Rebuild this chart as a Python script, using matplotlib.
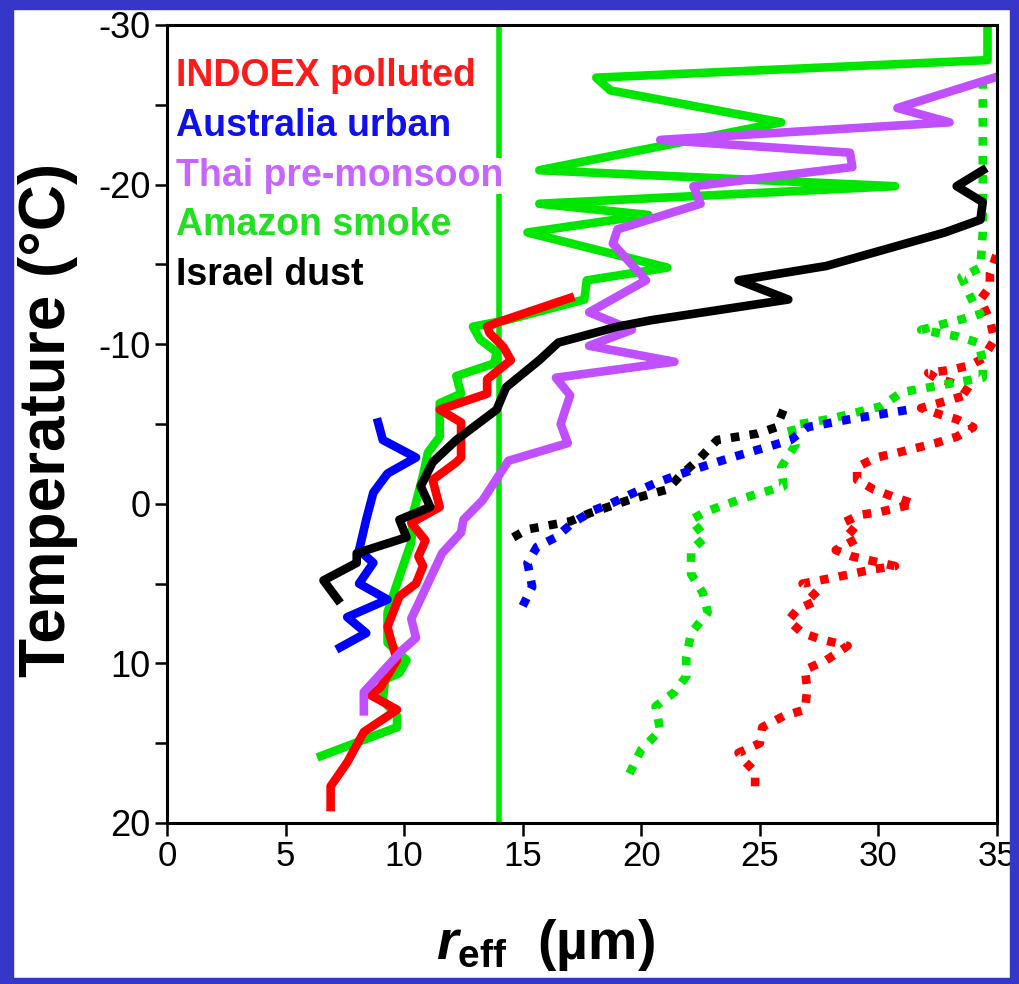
import matplotlib
matplotlib.use("Agg")
import matplotlib.pyplot as plt
from matplotlib.patches import Rectangle

plt.rcParams['font.family'] = ['Liberation Sans', 'DejaVu Sans']
plt.rcParams['axes.unicode_minus'] = False
plt.rcParams['mathtext.fontset'] = 'custom'
plt.rcParams['mathtext.rm'] = 'Liberation Sans:bold'
plt.rcParams['mathtext.it'] = 'Liberation Sans:italic:bold'
plt.rcParams['mathtext.bf'] = 'Liberation Sans:bold'

# solid curves (r_eff in um, temperature in C), bottom to top
indoex_x = [6.9, 6.9, 7.6, 8.3, 9.7, 8.6, 9.0, 9.7, 9.4, 9.3, 9.8, 10.5, 10.8, 10.6, 10.9, 10.3,
            11.5, 11.2, 12.2, 12.4, 12.4, 11.5, 13.5, 13.5, 14.5, 14.2, 13.6, 13.5, 14.0, 17.0]
indoex_y = [19.0, 17.7, 16.2, 14.3, 12.9, 12.0, 11.5, 9.8, 8.3, 7.7, 5.8, 5.0, 3.9, 3.3, 2.3, 1.2,
            0.2, -1.5, -2.6, -2.9, -5.1, -5.9, -6.9, -7.8, -9.0, -9.8, -10.7, -11.1, -11.4, -12.9]

australia_x = [7.3, 8.4, 7.6, 9.3, 8.1, 8.7, 8.1, 8.4, 8.7, 9.3, 10.5, 9.1, 8.9]
australia_y = [9.0, 8.1, 7.1, 6.0, 5.0, 3.7, 2.9, 1.0, -0.7, -1.9, -2.9, -4.0, -5.1]

thai_x = [8.3, 8.3, 9.9, 10.5, 10.3, 11.6, 12.4, 12.5, 13.3, 14.4, 16.9, 16.6, 17.0, 16.4, 21.4,
          17.8, 19.6, 17.8, 20.2, 18.8, 19.0, 22.5, 22.2, 28.9, 28.8, 20.8, 33.0, 30.8, 35.1]
thai_y = [13.0, 11.8, 9.2, 8.4, 7.2, 3.1, 1.8, 1.0, -0.2, -2.7, -3.8, -5.0, -6.8, -7.9, -8.9,
          -9.9, -10.9, -12.0, -14.0, -16.3, -17.2, -18.8, -19.9, -21.1, -22.0, -22.8, -23.9, -24.8, -26.8]

amazon_x = [6.5, 9.7, 9.7, 9.1, 9.2, 9.8, 10.1, 9.3, 9.3, 9.7, 10.3, 10.4, 10.8, 11.0, 11.5, 11.5,
            12.4, 12.2, 13.8, 13.9, 13.2, 12.9, 14.3, 17.6, 17.7, 21.1, 15.2, 20.3, 15.7, 30.7,
            15.7, 25.9, 18.7, 18.1, 34.6, 34.6]
amazon_y = [15.8, 14.0, 13.3, 12.3, 11.0, 10.6, 9.8, 8.7, 6.8, 5.0, 2.4, 0.5, -1.8, -3.2, -4.2, -6.3,
            -6.9, -8.0, -8.8, -9.5, -10.3, -11.1, -11.5, -12.8, -14.0, -14.8, -17.0, -18.1, -18.8, -19.9,
            -20.9, -23.9, -25.9, -26.7, -27.8, -30.0]

israel_x = [7.2, 6.6, 8.0, 8.0, 10.1, 9.8, 11.1, 10.7, 11.2, 12.2, 13.9, 14.3, 15.7, 16.5, 19.0,
            20.4, 26.2, 24.1, 27.8, 32.8, 34.3, 34.4, 33.3, 34.4]
israel_y = [6.0, 4.8, 3.7, 3.1, 2.1, 1.0, 0.2, -1.1, -2.6, -4.0, -5.9, -7.3, -9.0, -10.1, -11.1,
            -11.5, -12.8, -14.0, -14.9, -17.0, -17.8, -18.9, -19.9, -20.9]

# dotted curves
australia_d_x = [15.0, 15.4, 15.2, 15.6, 16.4, 17.1, 18.0, 18.7, 19.7, 20.6, 22.1, 23.8, 25.4, 26.3,
                 27.0, 28.8, 31.3]
australia_d_y = [6.4, 5.2, 3.7, 2.7, 2.1, 1.2, 0.4, 0.0, -0.7, -1.3, -2.1, -2.9, -3.6, -4.0,
                 -4.8, -5.3, -5.9]

israel_d_x = [14.6, 15.2, 17.0, 17.8, 19.5, 21.1, 21.6, 22.5, 23.2, 24.9, 25.7, 26.0]
israel_d_y = [2.1, 1.6, 1.1, 0.6, -0.25, -0.9, -1.7, -2.9, -4.0, -4.4, -4.8, -5.9]

amazon_d_x = [19.5, 20.0, 20.8, 20.6, 21.4, 21.9, 21.9, 22.1, 22.8, 22.6, 22.1, 22.1, 22.7, 22.1,
              22.7, 24.4, 26.0, 25.9, 26.5, 26.3, 27.9, 30.1, 31.0, 34.4, 34.4, 34.2, 33.3, 31.8,
              33.6, 34.3, 34.0, 33.5, 34.3, 34.4, 34.4]
amazon_d_y = [16.9, 15.4, 14.2, 12.7, 11.8, 10.8, 9.6, 8.1, 6.8, 5.6, 4.4, 2.9, 2.1, 1.0,
              0.5, -0.4, -1.1, -2.3, -3.7, -4.9, -5.3, -6.1, -7.0, -7.9, -9.0, -10.1, -10.5, -10.9,
              -11.6, -11.9, -12.6, -14.2, -14.8, -17.0, -26.9]

indoex_d_x = [24.8, 24.8, 24.4, 24.1, 25.0, 25.1, 26.0, 26.9, 27.0, 26.9, 27.8, 28.7, 27.6, 26.8,
              26.2, 26.6, 27.5, 26.8, 28.2, 29.8, 30.7, 28.9, 28.2, 29.2, 28.5, 29.2, 30.1, 31.5,
              30.7, 29.8, 29.1, 29.1, 29.9, 30.8, 32.4, 33.3, 34.0, 33.3, 32.6, 31.8, 33.0, 33.9,
              33.3, 32.4, 32.1, 33.1, 33.9, 34.4, 34.9, 34.7, 34.3, 34.7, 34.7, 35.0]
indoex_d_y = [17.7, 16.8, 16.2, 15.6, 15.0, 14.0, 13.3, 12.9, 11.6, 10.4, 9.8, 8.9, 8.5, 8.1,
              7.3, 6.6, 6.0, 5.0, 4.6, 4.1, 3.9, 3.3, 2.9, 2.1, 1.2, 0.7, 0.5, 0.0,
              -0.4, -0.9, -1.5, -2.3, -2.9, -3.2, -3.8, -4.2, -4.8, -5.3, -5.6, -6.0, -6.5, -6.9,
              -7.5, -7.9, -8.2, -8.4, -8.7, -9.1, -10.3, -11.5, -12.8, -13.6, -14.4, -15.7]

threshold = 14.0

names = ['INDOEX polluted', 'Australia urban', 'Thai pre-monsoon', 'Amazon smoke', 'Israel dust']
line_colors = ['#ff0000', '#0000ff', '#c050ff', '#00e600', '#000000']
text_colors = ['#ff1a1a', '#1010ee', '#c864ff', '#20e020', '#000000']

fig = plt.figure(figsize=(10.19, 9.84), dpi=100)
ax = fig.add_axes([167 / 1019, 1 - 823 / 984, 830 / 1019, 798 / 984])

ax.axvline(threshold, color='#00e600', lw=4, zorder=1)

lw = 6.2
dot = (0, (1.0, 1.2))
ax.plot(indoex_d_x, indoex_d_y, color=line_colors[0], lw=lw, ls=dot)
ax.plot(amazon_d_x, amazon_d_y, color=line_colors[3], lw=lw, ls=dot)
ax.plot(israel_d_x, israel_d_y, color=line_colors[4], lw=lw, ls=dot)
ax.plot(australia_d_x, australia_d_y, color=line_colors[1], lw=lw, ls=dot)

ax.plot(amazon_x, amazon_y, color=line_colors[3], lw=lw)
ax.plot(indoex_x, indoex_y, color=line_colors[0], lw=lw)
ax.plot(thai_x, thai_y, color=line_colors[2], lw=lw)
ax.plot(australia_x, australia_y, color=line_colors[1], lw=lw)
ax.plot(israel_x, israel_y, color=line_colors[4], lw=lw)

# legend written as coloured text
for i, (name, c) in enumerate(zip(names, text_colors)):
    ax.text(0.4, -26.8 + i * 3.12, name, color=c, fontsize=27, fontweight='bold',
            va='center', ha='left', zorder=5,
            bbox=dict(facecolor='white', edgecolor='none', pad=0))

ax.set_xlim(0, 35)
ax.set_ylim(20, -30)
ax.set_xticks(range(0, 36, 5))
ax.set_yticks(range(-30, 21, 10))
ax.set_yticks(range(-25, 20, 10), minor=True)
ax.tick_params(axis='both', which='both', direction='out', length=9, width=1.8,
               labelsize=25, pad=3)
ax.tick_params(axis='y', which='major', labelsize=26)
for s in ax.spines.values():
    s.set_linewidth(2.2)

fig.text(48 / 1019, 1 - 420 / 984, 'Temperature (°C)', rotation=90, fontsize=46,
         fontweight='bold', ha='center', va='center')
fig.text(545 / 1019, 1 - 945 / 984, r'$r_{\mathbf{eff}}$  (µm)', fontsize=40,
         fontweight='bold', ha='center', va='center')

# slide frame
frame = '#3636c8'
fig.patches.append(Rectangle((0, 0), 13 / 1019, 1, transform=fig.transFigure, color=frame))
fig.patches.append(Rectangle((1 - 9 / 1019, 0), 9 / 1019, 1, transform=fig.transFigure, color=frame))
fig.patches.append(Rectangle((0, 1 - 9 / 984), 1, 9 / 984, transform=fig.transFigure, color=frame))
fig.patches.append(Rectangle((0, 0), 1, 6 / 984, transform=fig.transFigure, color=frame))

fig.savefig('out.png', dpi=100)
